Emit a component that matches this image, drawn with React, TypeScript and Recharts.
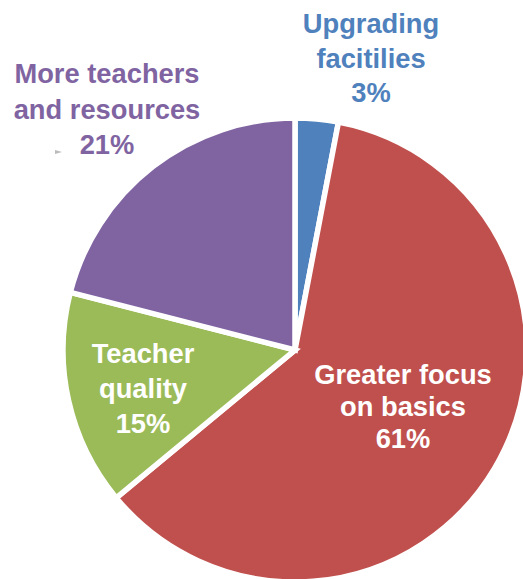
import { Cell, Pie, PieChart } from "recharts";

// clockwise from 12 o'clock
const categories = [
  "Upgrading\nfacitilies",
  "Greater focus\non basics",
  "Teacher\nquality",
  "More teachers\nand resources",
];
const shares = [3, 61, 15, 21];

const colors = ["#4F81BD", "#C0504D", "#9BBB59", "#8064A2"];
const labelColors = ["#4F81BD", "#ffffff", "#ffffff", "#8064A2"];

// label block placement relative to the pie centre: [dx, first baseline dy, line height]
const labelPlacement = [
  [76, -317, 34.5],
  [108, 34, 32],
  [-152, 13, 35],
  [-188, -267, 35.5],
];

const data = categories.map((name, i) => ({ name, value: shares[i] }));

const renderLabel = (props: any) => {
  const { cx, cy, index } = props;
  const [dx, dy, lh] = labelPlacement[index];
  const lines = [...categories[index].split("\n"), `${shares[index]}%`];
  const x = cx + dx;
  return (
    <g>
      <text
        x={x}
        y={cy + dy}
        textAnchor="middle"
        fill={labelColors[index]}
        fontFamily="'Liberation Sans', Arial, sans-serif"
        fontWeight="bold"
        fontSize={27.3}
      >
        {lines.map((line, i) => (
          <tspan key={i} x={x} dy={i === 0 ? 0 : lh}>
            {line}
          </tspan>
        ))}
      </text>
      {index === 3 && (
        <polygon
          points={`${cx - 240},${cy - 200} ${cx - 233},${cy - 198} ${cx - 240},${cy - 196}`}
          fill="#bbbbbb"
        />
      )}
    </g>
  );
};

const App = () => {
  return (
    <div style={{ position: "absolute", left: 0, top: 0, width: 523, height: 579 }}>
      <PieChart width={523} height={579} margin={{ top: 0, right: 0, bottom: 0, left: 0 }}>
        <Pie
          data={data}
          dataKey="value"
          nameKey="name"
          cx={295}
          cy={350}
          outerRadius={232}
          startAngle={90}
          endAngle={-270}
          stroke="#ffffff"
          strokeWidth={5.5}
          label={renderLabel}
          labelLine={false}
          isAnimationActive={false}
        >
          {data.map((d, i) => (
            <Cell key={d.name} fill={colors[i]} />
          ))}
        </Pie>
      </PieChart>
    </div>
  );
};

export default App;
